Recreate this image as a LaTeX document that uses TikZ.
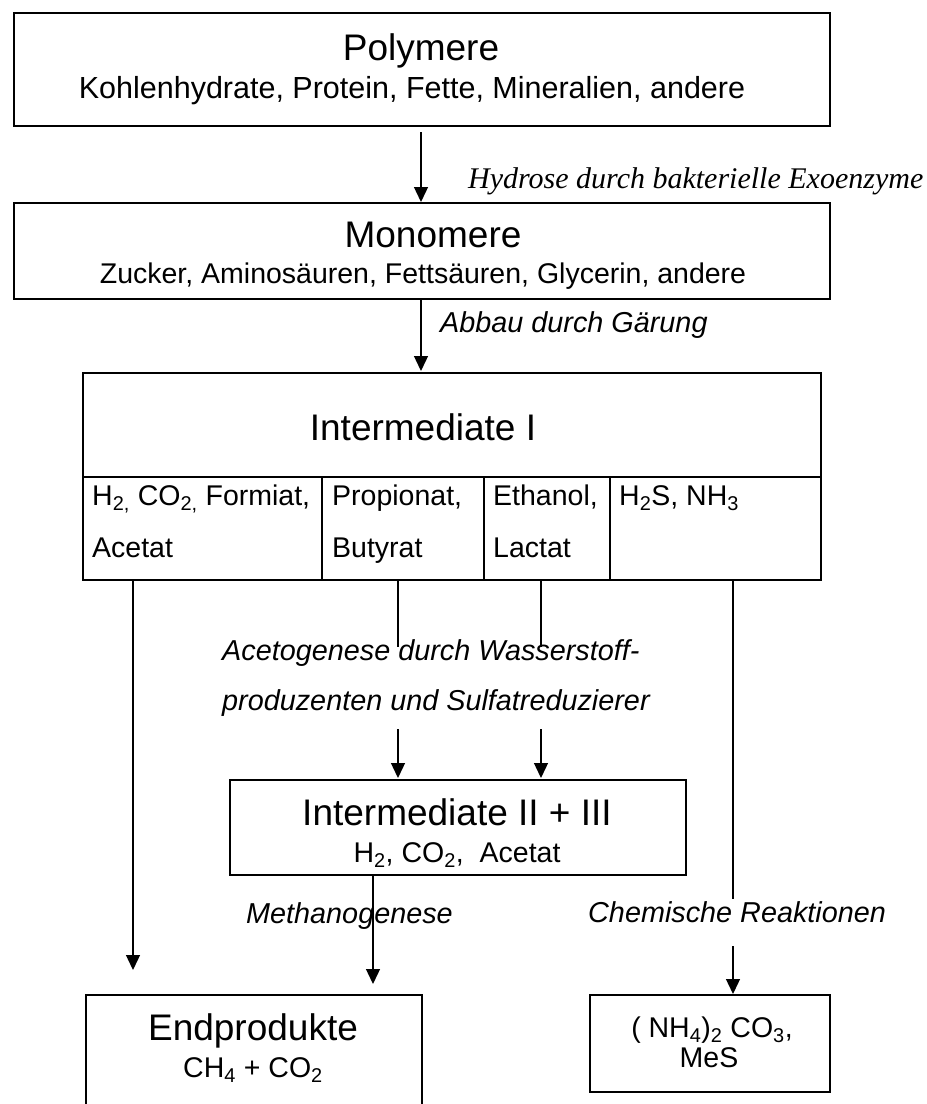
\documentclass[tikz,border=0pt]{standalone}
\usepackage{fontspec}
\setmainfont{Liberation Sans}
\newfontfamily\timesit{Liberation Serif}
\usetikzlibrary{arrows.meta}

\tikzset{
  box/.style={draw, line width=1.8pt, inner sep=0pt, anchor=north west},
  titletext/.style={font=\fontsize{37}{40}\selectfont, anchor=base, inner sep=0pt},
  subtext/.style={font=\fontsize{28.5}{32}\selectfont, anchor=base, inner sep=0pt},
  celltext/.style={font=\fontsize{28.5}{32}\selectfont, anchor=base west, inner sep=0pt},
  steplabel/.style={font=\fontsize{28.8}{32}\selectfont\itshape, anchor=base west, inner sep=0pt},
  flow/.style={line width=1.3pt, -{Triangle[length=15pt,width=14pt]}},
  wire/.style={line width=1.3pt}
}

\begin{document}
\begin{tikzpicture}[x=1pt, y=-1pt]
  \useasboundingbox (0,0) rectangle (927,1104);

  % boxes
  \node[box, minimum width=816pt, minimum height=113pt] (poly) at (13,12) {};
  \node[titletext] (polyT) at (421,60) {Polymere};
  \node[subtext, font=\fontsize{30.5}{34}\selectfont] (polyS) at (412,98) {Kohlenhydrate, Protein, Fette, Mineralien, andere};

  \node[box, minimum width=816pt, minimum height=96pt] (mono) at (13,202) {};
  \node[titletext] (monoT) at (433,247) {Monomere};
  \node[subtext] (monoS) at (423,283) {Zucker, Aminosäuren, Fettsäuren, Glycerin, andere};

  \node[box, minimum width=738pt, minimum height=207pt] (inter) at (82,372) {};
  \draw[box] (82,477) -- (820,477);
  \foreach \x in {322,484,610} \draw[box] (\x,477) -- (\x,579);
  \node[titletext] (interT) at (423,440) {Intermediate I};
  \node[celltext] (c1a) at (92,505) {H\textsubscript{2,} CO\textsubscript{2,} Formiat,};
  \node[celltext] (c1b) at (92,557) {Acetat};
  \node[celltext] (c2a) at (332,505) {Propionat,};
  \node[celltext] (c2b) at (332,557) {Butyrat};
  \node[celltext] (c3a) at (493,505) {Ethanol,};
  \node[celltext] (c3b) at (493,557) {Lactat};
  \node[celltext] (c4a) at (619,505) {H\textsubscript{2}S, NH\textsubscript{3}};

  \node[box, minimum width=456pt, minimum height=95pt] (inter2) at (229,779) {};
  \node[titletext] (inter2T) at (457,825) {Intermediate II + III};
  \node[subtext] (inter2S) at (457,862) {H\textsubscript{2}, CO\textsubscript{2}, \ Acetat};

  \node[box, minimum width=336pt, minimum height=140pt] (endp) at (85,994) {};
  \node[titletext] (endpT) at (253,1040) {Endprodukte};
  \node[subtext] (endpS) at (253,1077) {CH\textsubscript{4} + CO\textsubscript{2}};

  \node[box, minimum width=240pt, minimum height=97pt] (salts) at (589,994) {};
  \node[subtext] (saltsA) at (712,1037) {( NH\textsubscript{4})\textsubscript{2} CO\textsubscript{3},};
  \node[subtext] (saltsB) at (709,1067) {MeS};

  % step labels
  \node[steplabel, font=\fontsize{30}{33}\selectfont\timesit\itshape] (hydro) at (468,188) {Hydrose durch bakterielle Exoenzyme};
  \node[steplabel] (abbau) at (440,332) {Abbau durch Gärung};
  \node[steplabel] (aceto1) at (222,660) {Acetogenese durch Wasserstoff-};
  \node[steplabel] (aceto2) at (222,710) {produzenten und Sulfatreduzierer};
  \node[steplabel] (methano) at (246,923) {Methanogenese};
  \node[steplabel] (chem) at (588,922) {Chemische Reaktionen};

  % connector ends
  \coordinate (polyOut) at (421,132);
  \coordinate (monoIn) at (421,202);
  \coordinate (monoOut) at (421,298);
  \coordinate (interIn) at (421,371);
  \foreach \x/\n in {133/a,398/b,541/c,733/d} \coordinate (out\n) at (\x,579);
  \coordinate (endpIn) at (133,970);
  \coordinate (bEnd) at (398,647);
  \coordinate (cEnd) at (541,647);
  \coordinate (bStart) at (398,729);
  \coordinate (cStart) at (541,729);
  \coordinate (bIn) at (398,778);
  \coordinate (cIn) at (541,778);
  \coordinate (dEnd) at (733,899);
  \coordinate (dStart) at (733,946);
  \coordinate (saltsIn) at (733,994);
  \coordinate (inter2Out) at (373,874);
  \coordinate (methIn) at (373,984);

  % connectors
  \draw[flow] (polyOut) -- (monoIn);
  \draw[flow] (monoOut) -- (interIn);
  \draw[flow] (outa) -- (endpIn);
  \draw[wire] (outb) -- (bEnd);
  \draw[wire] (outc) -- (cEnd);
  \draw[flow] (bStart) -- (bIn);
  \draw[flow] (cStart) -- (cIn);
  \draw[wire] (outd) -- (dEnd);
  \draw[flow] (dStart) -- (saltsIn);
  \draw[flow] (inter2Out) -- (methIn);
\end{tikzpicture}
\end{document}
